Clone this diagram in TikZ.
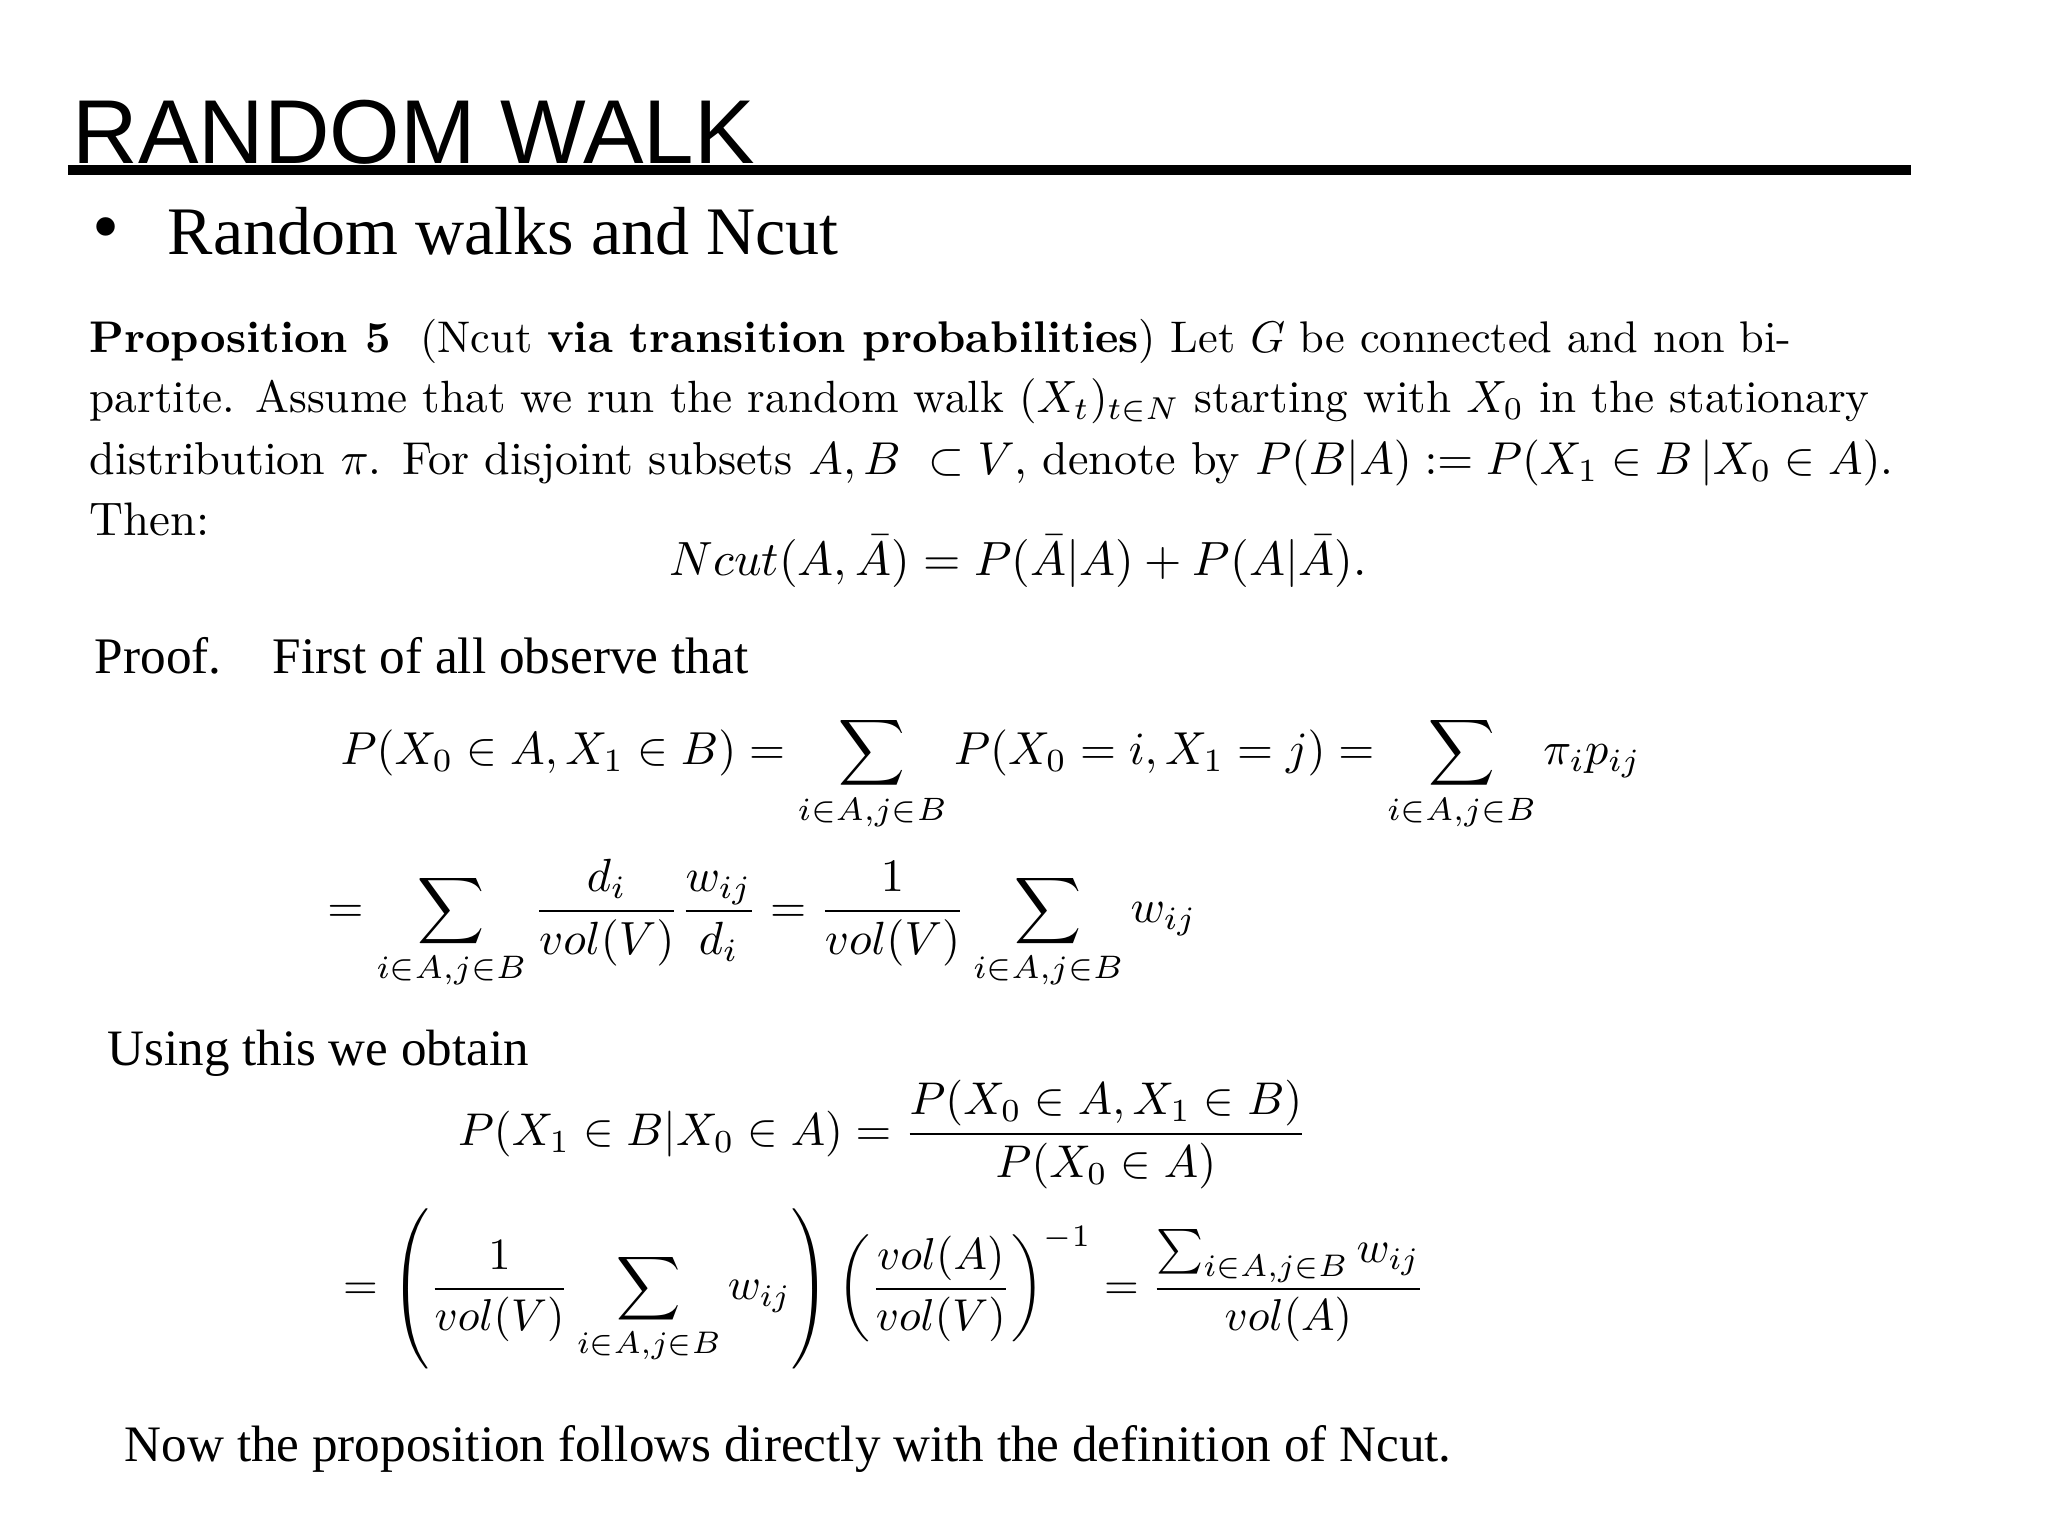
\documentclass[tikz,border=0pt]{standalone}
\usepackage{amsmath,amssymb}
\usepackage{fontspec}
\newfontfamily\titlefont{Liberation Sans}
\newfontfamily\timesfont{Liberation Serif}
\usepackage{graphicx}
\newlength\upx \setlength\upx{0.01307cm}
\newcommand\fw[2]{\resizebox{#1\upx}{!}{#2}}
\begin{document}
\begin{tikzpicture}[x=0.01307cm,y=-0.01307cm,
  txt/.style={inner sep=0pt,anchor=base west},
  eq/.style={inner sep=0pt,anchor=west}]
\useasboundingbox[fill=white] (0,0) rectangle (1567,1175.2);
\node[txt] (title) at (55,125) {\fw{522}{\titlefont RANDOM WALK}};
\draw[line width=3pt] (52,130) -- (1462,130);
\node[txt] (bul) at (70,193) {\fontsize{22}{22}\selectfont\timesfont\textbullet};
\node[txt] (sub) at (128,195) {\fw{513}{\timesfont Random walks and Ncut}};
\node[txt] (p1) at (68,270) {\fw{1302}{\textbf{Proposition 5}\ \ (Ncut \textbf{via transition probabilities}) Let $G$ be connected and non bi-}};
\node[txt] (p2) at (68,316) {\fw{1362}{partite. Assume that we run the random walk $(X_t)_{t\in N}$ starting with $X_0$ in the stationary}};
\node[txt] (p3) at (68,363) {\fw{1380}{distribution $\pi$. For disjoint subsets $A,B\ \subset V$, denote by $P(B|A):=P(X_1\in B\,|X_0\in A)$.}};
\node[txt] (p4) at (68,410) {\fw{92}{Then:}};
\node[txt] (ncut) at (512,440) {\fw{533}{$Ncut(A,\bar A)=P(\bar A|A)+P(A|\bar A).$}};
\node[txt] (proof) at (72,515) {\fw{500}{\timesfont Proof.\quad First of all observe that}};
\node[eq] (e1) at (260,592) {\fw{995}{$\displaystyle P(X_0\in A,X_1\in B)=\sum_{i\in A,j\in B}P(X_0=i,X_1=j)=\sum_{i\in A,j\in B}\pi_i p_{ij}$}};
\node[eq] (e2) at (250,707) {\fw{665}{$\displaystyle =\sum_{i\in A,j\in B}\frac{d_i}{vol(V)}\frac{w_{ij}}{d_i}=\frac{1}{vol(V)}\sum_{i\in A,j\in B}w_{ij}$}};
\node[txt] (using) at (82,815) {\fw{322}{\timesfont Using this we obtain}};
\node[eq] (e3) at (350,868) {\fw{650}{$\displaystyle P(X_1\in B|X_0\in A)=\frac{P(X_0\in A,X_1\in B)}{P(X_0\in A)}$}};
\node[eq] (e4) at (262,986) {\fw{828}{$\displaystyle =\left(\frac{1}{vol(V)}\sum_{i\in A,j\in B}w_{ij}\right)\left(\frac{vol(A)}{vol(V)}\right)^{-1}=\frac{\sum_{i\in A,j\in B}w_{ij}}{vol(A)}$}};
\node[txt] (last) at (95,1118) {\fw{1015}{\timesfont Now the proposition follows directly with the definition of Ncut.}};
\end{tikzpicture}
\end{document}
